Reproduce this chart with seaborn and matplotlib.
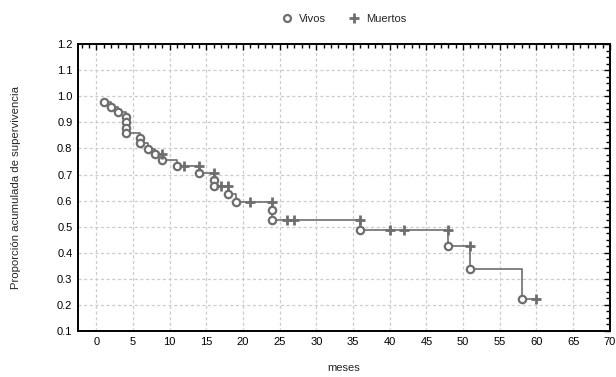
import matplotlib
matplotlib.use("Agg")
import matplotlib.pyplot as plt
import seaborn as sns
import pandas as pd
import numpy as np
from matplotlib.lines import Line2D
from matplotlib.ticker import MultipleLocator

# Vivos (circles)
vivos_t = [1, 2, 3, 4, 4, 4, 4, 6, 6, 7, 8, 9, 11, 14, 16, 16, 18, 19, 24, 24, 36, 48, 51, 58]
vivos_s = [0.979, 0.960, 0.940, 0.921, 0.900, 0.879, 0.858, 0.839, 0.820, 0.797, 0.777, 0.756,
           0.732, 0.705, 0.680, 0.655, 0.626, 0.594, 0.563, 0.525, 0.486, 0.427, 0.336, 0.222]
# Muertos (plus)
muertos_t = [9, 12, 14, 16, 17, 18, 21, 24, 26, 27, 36, 40, 42, 48, 51, 60]
muertos_s = [0.777, 0.732, 0.732, 0.705, 0.655, 0.655, 0.594, 0.594, 0.525, 0.525, 0.525,
             0.486, 0.486, 0.486, 0.427, 0.222]

x_ticks = list(range(0, 71, 5))
y_ticks = [0.1, 0.2, 0.3, 0.4, 0.5, 0.6, 0.7, 0.8, 0.9, 1.0, 1.1, 1.2]

sns.set_style("white")
plt.rcParams['font.family'] = ['Liberation Sans', 'DejaVu Sans']

df_v = pd.DataFrame({"t": vivos_t, "s": vivos_s, "k": "Vivos"})
df_m = pd.DataFrame({"t": muertos_t, "s": muertos_s, "k": "Muertos"})
df = pd.concat([df_v, df_m], ignore_index=True)
df = df.sort_values(["t", "s"], ascending=[True, False]).reset_index(drop=True)

fig = plt.figure(figsize=(6.16, 3.77), dpi=100)
ax = fig.add_axes([0.1266, 0.122, 0.8634, 0.761])

gray = "#6e6e6e"
sns.lineplot(data=df, x="t", y="s", estimator=None, sort=False, drawstyle="steps-post",
             color=gray, linewidth=1.2, ax=ax, zorder=2)
sns.scatterplot(data=df_v, x="t", y="s", marker="o", s=28, facecolor="white",
                edgecolor=gray, linewidth=1.6, ax=ax, zorder=3)
sns.scatterplot(data=df_m, x="t", y="s", marker="+", s=45, color=gray,
                linewidth=2.0, ax=ax, zorder=3)

ax.set_xlim(-2.5, 70)
ax.set_ylim(0.1, 1.2)
ax.set_xticks(x_ticks)
ax.set_yticks(y_ticks)
ax.set_xticklabels([str(v) for v in x_ticks])
ax.set_yticklabels([f"{v:.1f}" for v in y_ticks])
ax.xaxis.set_minor_locator(MultipleLocator(1))
ax.yaxis.set_minor_locator(MultipleLocator(0.025))
ax.tick_params(which="both", direction="in", top=True, right=True, colors="black",
               labelsize=8, width=1.0, pad=4)
ax.tick_params(which="major", length=4)
ax.tick_params(which="minor", length=3)
ax.grid(True, which="major", linestyle=(0, (2.5, 2)), color="#cccccc", linewidth=0.9)
ax.set_axisbelow(True)
for sp in ax.spines.values():
    sp.set_color("black")
    sp.set_linewidth(1.4)

ax.set_xlabel("meses", fontsize=8, labelpad=12)
ax.set_ylabel("Proporción acumulada de supervivencia", fontsize=8.2, labelpad=26)

handles = [Line2D([], [], marker="o", linestyle="none", markerfacecolor="white",
                  markeredgecolor=gray, markeredgewidth=1.6, markersize=5, label="Vivos"),
           Line2D([], [], marker="+", linestyle="none", color=gray,
                  markeredgewidth=2.0, markersize=6.5, label="Muertos")]
ax.legend(handles=handles, loc="lower center", bbox_to_anchor=(0.5, 1.035), ncol=2,
          frameon=False, fontsize=8, handlelength=1.0, handletextpad=0.6,
          columnspacing=2.0)

fig.savefig("out.png", dpi=100)
